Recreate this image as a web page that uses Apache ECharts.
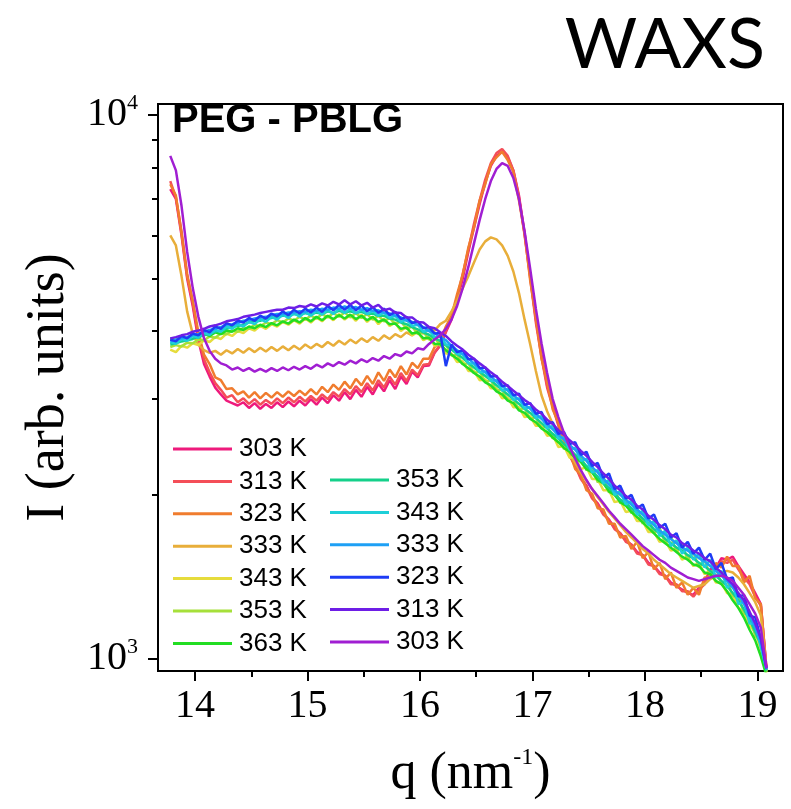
<!DOCTYPE html>
<html><head><meta charset="utf-8">
<script src="https://cdn.jsdelivr.net/npm/echarts@6/dist/echarts.min.js"></script>
<style>html,body{margin:0;padding:0;background:#fff;}#c{width:791px;height:809px;}</style>
</head><body><div id="c"></div>
<script>
// scattering vector q (nm^-1)
const q = [13.78,13.83,13.88,13.93,13.98,14.03,14.08,14.13,14.18,14.23,
14.28,14.33,14.38,14.43,14.48,14.53,14.58,14.63,14.68,14.73,
14.78,14.83,14.88,14.93,14.98,15.03,15.08,15.13,15.18,15.23,
15.28,15.33,15.38,15.43,15.48,15.53,15.58,15.63,15.68,15.73,
15.78,15.83,15.88,15.93,15.98,16.03,16.08,16.13,16.18,16.23,
16.28,16.33,16.38,16.43,16.48,16.53,16.58,16.63,16.68,16.73,
16.78,16.83,16.88,16.93,16.98,17.03,17.08,17.13,17.18,17.23,
17.28,17.33,17.38,17.43,17.48,17.53,17.58,17.63,17.68,17.73,
17.78,17.83,17.88,17.93,17.98,18.03,18.08,18.13,18.18,18.23,
18.28,18.33,18.38,18.43,18.48,18.53,18.58,18.63,18.68,18.73,
18.78,18.83,18.88,18.93,18.98,19.03,19.08];

// heating
const h303 = [7300,7000,6000,5000,4450,3850,3480,3300,3150,3060,
2980,2950,2920,2960,2890,2950,2880,2940,2890,2960,
2900,2970,2910,2980,2920,3000,2930,3020,2950,3050,
2980,3090,3000,3120,3030,3160,3060,3200,3100,3250,
3130,3300,3200,3370,3290,3450,3460,3650,3760,3980,
4200,4550,5000,5600,6200,6850,7500,8050,8400,8550,
8350,7900,7100,6050,5050,4200,3620,3180,2920,2700,
2530,2370,2270,2150,2080,1980,1930,1850,1800,1740,
1700,1650,1620,1570,1550,1500,1480,1440,1420,1380,
1360,1340,1320,1310,1350,1380,1460,1470,1530,1520,
1540,1480,1430,1380,1320,1260,960];
const h313 = [7550,7050,6100,5100,4500,3900,3550,3360,3210,3120,
3020,3050,2960,3010,2940,3000,2930,2990,2940,3010,
2950,3020,2960,3030,2970,3040,2980,3060,3000,3090,
3030,3130,3060,3170,3090,3210,3110,3250,3150,3300,
3190,3350,3240,3400,3320,3470,3480,3660,3780,4000,
4250,4600,5100,5650,6300,6950,7600,8150,8500,8650,
8400,7900,7050,6000,5000,4150,3580,3150,2900,2680,
2520,2360,2260,2140,2070,1970,1920,1840,1800,1730,
1700,1640,1620,1560,1550,1490,1480,1430,1420,1370,
1370,1330,1330,1300,1340,1370,1440,1460,1510,1500,
1520,1460,1410,1370,1300,1250,960];
const h323 = [7450,7100,6050,5050,4550,3980,3620,3480,3290,3250,
3130,3140,3060,3100,3020,3090,3010,3080,3020,3090,
3030,3100,3040,3110,3050,3130,3060,3160,3090,3190,
3120,3230,3140,3270,3180,3310,3200,3360,3240,3400,
3290,3450,3330,3500,3420,3560,3560,3740,3830,4080,
4270,4680,5080,5700,6200,6950,7450,8100,8350,8550,
8250,7850,6950,6050,4950,4250,3560,3230,2870,2720,
2500,2400,2230,2180,2040,2010,1890,1880,1770,1770,
1670,1680,1590,1640,1530,1570,1460,1500,1400,1440,
1350,1380,1310,1350,1310,1410,1410,1500,1470,1540,
1480,1480,1380,1420,1290,1260,950];
const h333 = [6000,5750,5050,4350,3950,3780,3690,3650,3680,3620,
3690,3640,3710,3650,3720,3660,3730,3670,3740,3680,
3750,3690,3760,3700,3780,3720,3790,3740,3820,3760,
3840,3780,3860,3800,3880,3820,3900,3840,3930,3870,
3950,3900,3980,3930,4010,3960,4040,4010,4120,4180,
4350,4550,4800,5050,5350,5650,5850,5950,5900,5750,
5500,5150,4700,4200,3780,3380,3050,2850,2700,2580,
2470,2380,2290,2200,2120,2050,1980,1920,1860,1810,
1760,1710,1670,1630,1590,1560,1520,1490,1460,1430,
1410,1390,1370,1350,1360,1370,1400,1420,1440,1450,
1440,1410,1370,1320,1270,1200,950];
const h343 = [3700,3660,3760,3730,3800,3770,3850,3820,3900,3870,
3960,3920,4000,3970,4050,4010,4090,4040,4120,4080,
4160,4110,4190,4130,4220,4150,4240,4170,4270,4190,
4300,4200,4280,4180,4290,4160,4250,4120,4220,4090,
4150,4000,4080,3930,3990,3850,3900,3760,3800,3640,
3640,3510,3520,3380,3380,3250,3260,3140,3140,3010,
3020,2900,2900,2780,2790,2680,2680,2570,2580,2450,
2460,2340,2350,2230,2250,2140,2140,2040,2040,1940,
1950,1860,1870,1790,1790,1710,1710,1640,1650,1580,
1590,1520,1540,1480,1500,1430,1450,1380,1380,1320,
1310,1240,1220,1150,1120,1040,940];
const h353 = [3740,3770,3750,3810,3800,3860,3850,3910,3890,3960,
3950,4010,3990,4060,4040,4110,4080,4150,4120,4190,
4150,4220,4180,4250,4200,4270,4220,4300,4240,4320,
4250,4330,4240,4320,4230,4300,4200,4270,4170,4230,
4120,4170,4040,4080,3950,3990,3860,3900,3760,3780,
3610,3620,3480,3490,3350,3370,3230,3250,3110,3120,
2990,3000,2870,2890,2760,2780,2650,2680,2540,2570,
2430,2460,2320,2360,2220,2260,2110,2160,2020,2060,
1930,1970,1850,1890,1770,1820,1700,1740,1630,1680,
1570,1620,1520,1570,1470,1520,1420,1470,1370,1400,
1300,1310,1210,1200,1100,1080,945];
const h363 = [3880,3850,3900,3870,3930,3890,3950,3920,3980,3950,
4010,3990,4050,4020,4080,4050,4110,4070,4140,4100,
4170,4130,4200,4150,4230,4170,4250,4190,4270,4210,
4280,4220,4290,4210,4270,4190,4250,4160,4200,4120,
4130,4040,4060,3960,3980,3880,3890,3790,3790,3690,
3620,3560,3480,3420,3350,3300,3220,3180,3100,3060,
2980,2950,2860,2830,2760,2720,2650,2610,2550,2500,
2440,2400,2340,2300,2230,2200,2130,2100,2030,2000,
1940,1910,1860,1820,1780,1740,1700,1660,1630,1600,
1570,1540,1520,1490,1480,1440,1430,1390,1370,1330,
1280,1240,1190,1130,1080,1010,930];
// cooling
const c353 = [3780,3800,3830,3850,3870,3910,3930,3960,3990,4010,
4040,4080,4090,4110,4150,4170,4180,4220,4230,4250,
4270,4270,4300,4280,4320,4290,4330,4300,4350,4320,
4360,4330,4350,4320,4340,4300,4310,4270,4270,4220,
4200,4150,4120,4070,4030,3980,3940,3880,3840,3770,
3700,3630,3570,3500,3430,3370,3310,3250,3180,3120,
3060,3000,2940,2880,2830,2770,2710,2650,2590,2540,
2480,2430,2370,2320,2260,2210,2160,2100,2060,2010,
1960,1930,1890,1850,1810,1770,1730,1700,1660,1630,
1600,1580,1550,1530,1500,1480,1450,1420,1390,1360,
1320,1280,1230,1180,1120,1060,950];
const c343 = [3820,3790,3870,3840,3920,3890,3970,3940,4020,3990,
4080,4040,4120,4080,4160,4120,4210,4160,4250,4200,
4290,4230,4320,4250,4340,4270,4360,4290,4380,4300,
4400,4320,4400,4310,4380,4300,4360,4270,4330,4230,
4270,4160,4200,4090,4110,3990,4020,3900,3920,3780,
3760,3630,3630,3490,3490,3360,3370,3240,3250,3110,
3130,2990,3010,2880,2900,2770,2790,2650,2680,2540,
2550,2420,2440,2310,2330,2200,2220,2100,2130,2000,
2030,1920,1950,1840,1870,1760,1790,1680,1720,1610,
1650,1560,1600,1520,1560,1470,1520,1410,1450,1350,
1370,1260,1270,1160,1160,1050,955];
const c333 = [3830,3860,3880,3900,3940,3950,3990,4020,4040,4070,
4110,4120,4140,4180,4190,4220,4240,4250,4280,4300,
4300,4330,4330,4350,4340,4380,4360,4400,4380,4420,
4400,4440,4400,4430,4380,4410,4360,4370,4320,4310,
4270,4240,4180,4160,4110,4070,4000,3970,3900,3850,
3760,3690,3630,3560,3490,3420,3360,3300,3230,3170,
3110,3050,2990,2930,2880,2820,2760,2700,2640,2580,
2530,2470,2420,2360,2310,2250,2200,2140,2090,2040,
2000,1960,1920,1880,1840,1800,1760,1720,1690,1660,
1630,1600,1580,1560,1530,1510,1480,1450,1420,1390,
1350,1310,1260,1200,1140,1070,955];
const c323 = [3860,3830,3920,3880,3960,3930,4020,3980,4080,4040,
4140,4100,4180,4150,4230,4180,4270,4220,4310,4260,
4350,4280,4380,4310,4400,4330,4420,4340,4450,4370,
4470,4380,4470,4370,4460,4350,4430,4320,4400,4280,
4340,4210,4250,4140,4170,4050,4070,3960,3970,3450,
3780,3660,3690,3550,3560,3420,3430,3300,3310,3170,
3180,3050,3070,2930,2950,2820,2840,2700,2720,2590,
2610,2480,2500,2370,2400,2260,2290,2150,2190,2050,
2080,1970,2000,1890,1920,1810,1840,1740,1770,1670,
1700,1600,1640,1560,1600,1520,1560,1460,1500,1400,
1410,1300,1310,1200,1190,1090,960];
const c313 = [3880,3900,3930,3950,3990,4010,4040,4080,4100,4130,
4170,4190,4210,4250,4270,4290,4320,4340,4360,4380,
4380,4420,4410,4450,4430,4480,4440,4500,4460,4530,
4480,4560,4480,4540,4460,4510,4420,4470,4370,4400,
4330,4320,4240,4240,4160,4150,4070,4050,3980,3920,
3830,3760,3700,3620,3560,3490,3430,3360,3300,3230,
3170,3110,3050,2990,2940,2870,2820,2750,2700,2630,
2580,2520,2470,2410,2360,2300,2250,2190,2140,2080,
2040,1990,1960,1910,1880,1830,1800,1760,1730,1690,
1670,1630,1610,1580,1560,1530,1510,1470,1440,1400,
1370,1320,1280,1220,1160,1090,960];
const c303 = [8400,7900,6800,5600,4800,4250,3880,3680,3560,3490,
3460,3400,3430,3380,3420,3370,3410,3370,3420,3380,
3430,3390,3440,3400,3450,3410,3470,3430,3490,3450,
3510,3470,3530,3490,3550,3510,3570,3530,3600,3560,
3630,3600,3670,3640,3720,3700,3790,3860,3930,4040,
4200,4450,4800,5250,5800,6400,7000,7550,7950,8150,
8050,7650,7000,6100,5200,4400,3800,3350,3000,2780,
2600,2450,2330,2220,2130,2050,1990,1930,1870,1820,
1770,1730,1690,1650,1610,1580,1550,1520,1500,1470,
1450,1430,1410,1400,1390,1400,1410,1420,1420,1410,
1390,1350,1310,1260,1210,1140,960];

const seriesValues = [h303,h313,h323,h333,h343,h353,h363,c353,c343,c333,c323,c313,c303];
const legendLabels = ['303 K','313 K','323 K','333 K','343 K','353 K','363 K','353 K','343 K','333 K','323 K','313 K','303 K'];
const seriesIds = legendLabels.map((n,i)=> n + (i<7 ? ' heating' : ' cooling'));
const colors = ['#ee1a7c','#f44e58','#f07c2e','#e8ae3a','#e6dc3c','#a6e03a','#22dd22',
                '#14d08a','#1ecfd8','#1ea0f5','#1e3cf5','#6e1ee6','#a01ed2'];
const xMajor = [14,15,16,17,18,19];
const xMinor = [14.5,15.5,16.5,17.5,18.5];
const yMajor = [1000,10000];
const yMinor = [2000,3000,4000,5000,6000,7000,8000,9000];

const chart = echarts.init(document.getElementById('c'), null, {renderer:'canvas'});
const serif = 'Liberation Serif';
const legFmt = name => name.replace(/ (heating|cooling)$/,'');
const legendBase = {
  orient:'vertical', icon:'rect', itemWidth:59, itemHeight:3, itemGap:0.4, selectedMode:false, padding:0,
  textStyle:{fontFamily:'Liberation Sans', fontSize:26, color:'#000', lineHeight:32, padding:[0,0,0,2]},
  formatter: legFmt
};
const option = {
  animation:false,
  backgroundColor:'#fff',
  grid:{left:158, right:8, top:104, bottom:138, show:true, borderColor:'#000', borderWidth:2},
  legend:[
    Object.assign({}, legendBase, {data: seriesIds.slice(0,7), left:173, top:433}),
    Object.assign({}, legendBase, {data: seriesIds.slice(7), left:330, top:464})
  ],
  xAxis:[{
    type:'value', min:13.671, max:19.227, position:'bottom',
    axisLine:{show:true, lineStyle:{color:'#000', width:2}},
    axisTick:{show:true, customValues:xMajor, length:10, lineStyle:{color:'#000', width:2}},
    axisLabel:{customValues:xMajor, margin:15, fontFamily:serif, fontSize:40, color:'#000'},
    splitLine:{show:false},
    name:'{a|q (nm}{s|-1}{a|)}', nameLocation:'middle', nameGap:75,
    nameTextStyle:{rich:{
      a:{fontFamily:serif, fontSize:52, lineHeight:56, color:'#000'},
      s:{fontFamily:serif, fontSize:24, lineHeight:52, verticalAlign:'top', color:'#000'}
    }}
  },{
    type:'value', min:13.671, max:19.227, position:'bottom',
    axisLine:{show:false},
    axisTick:{show:true, customValues:xMinor, length:6, lineStyle:{color:'#000', width:2}},
    axisLabel:{show:false}, splitLine:{show:false}
  }],
  yAxis:[{
    type:'log', logBase:10, min:949, max:10464, position:'left',
    axisLine:{show:true, lineStyle:{color:'#000', width:2}},
    axisTick:{show:true, customValues:yMajor, length:10, lineStyle:{color:'#000', width:2}},
    axisLabel:{customValues:yMajor, margin:20,
      formatter: v => '{b|10}{s|' + Math.round(Math.log10(v)) + '}',
      rich:{
        b:{fontFamily:serif, fontSize:40, lineHeight:44, color:'#000'},
        s:{fontFamily:serif, fontSize:22, lineHeight:27, verticalAlign:'top', color:'#000'}
      }},
    splitLine:{show:false},
    name:'I (arb. units)', nameLocation:'middle', nameGap:57,
    nameTextStyle:{fontFamily:serif, fontSize:54, color:'#000'}
  },{
    type:'log', logBase:10, min:949, max:10464, position:'left',
    axisLine:{show:false},
    axisTick:{show:true, customValues:yMinor, length:6, lineStyle:{color:'#000', width:2}},
    axisLabel:{show:false}, splitLine:{show:false}
  }],
  graphic:[
    {type:'text', right:26, top:10, style:{text:'WAXS', font:'400 70px Lato', fill:'#000'}},
    {type:'text', left:172, top:101, style:{text:'PEG - PBLG', font:'bold 40px "Liberation Sans"', fill:'#000'}}
  ],
  series: seriesValues.map((vals,i)=>({
    type:'line', name:seriesIds[i], xAxisIndex:0, yAxisIndex:0,
    data: q.map((x,j)=>[x, vals[j]]),
    symbol:'none', silent:true,
    lineStyle:{width:2.5, color:colors[i]}, itemStyle:{color:colors[i]}
  }))
};
chart.setOption(option);
</script>
</body></html>
